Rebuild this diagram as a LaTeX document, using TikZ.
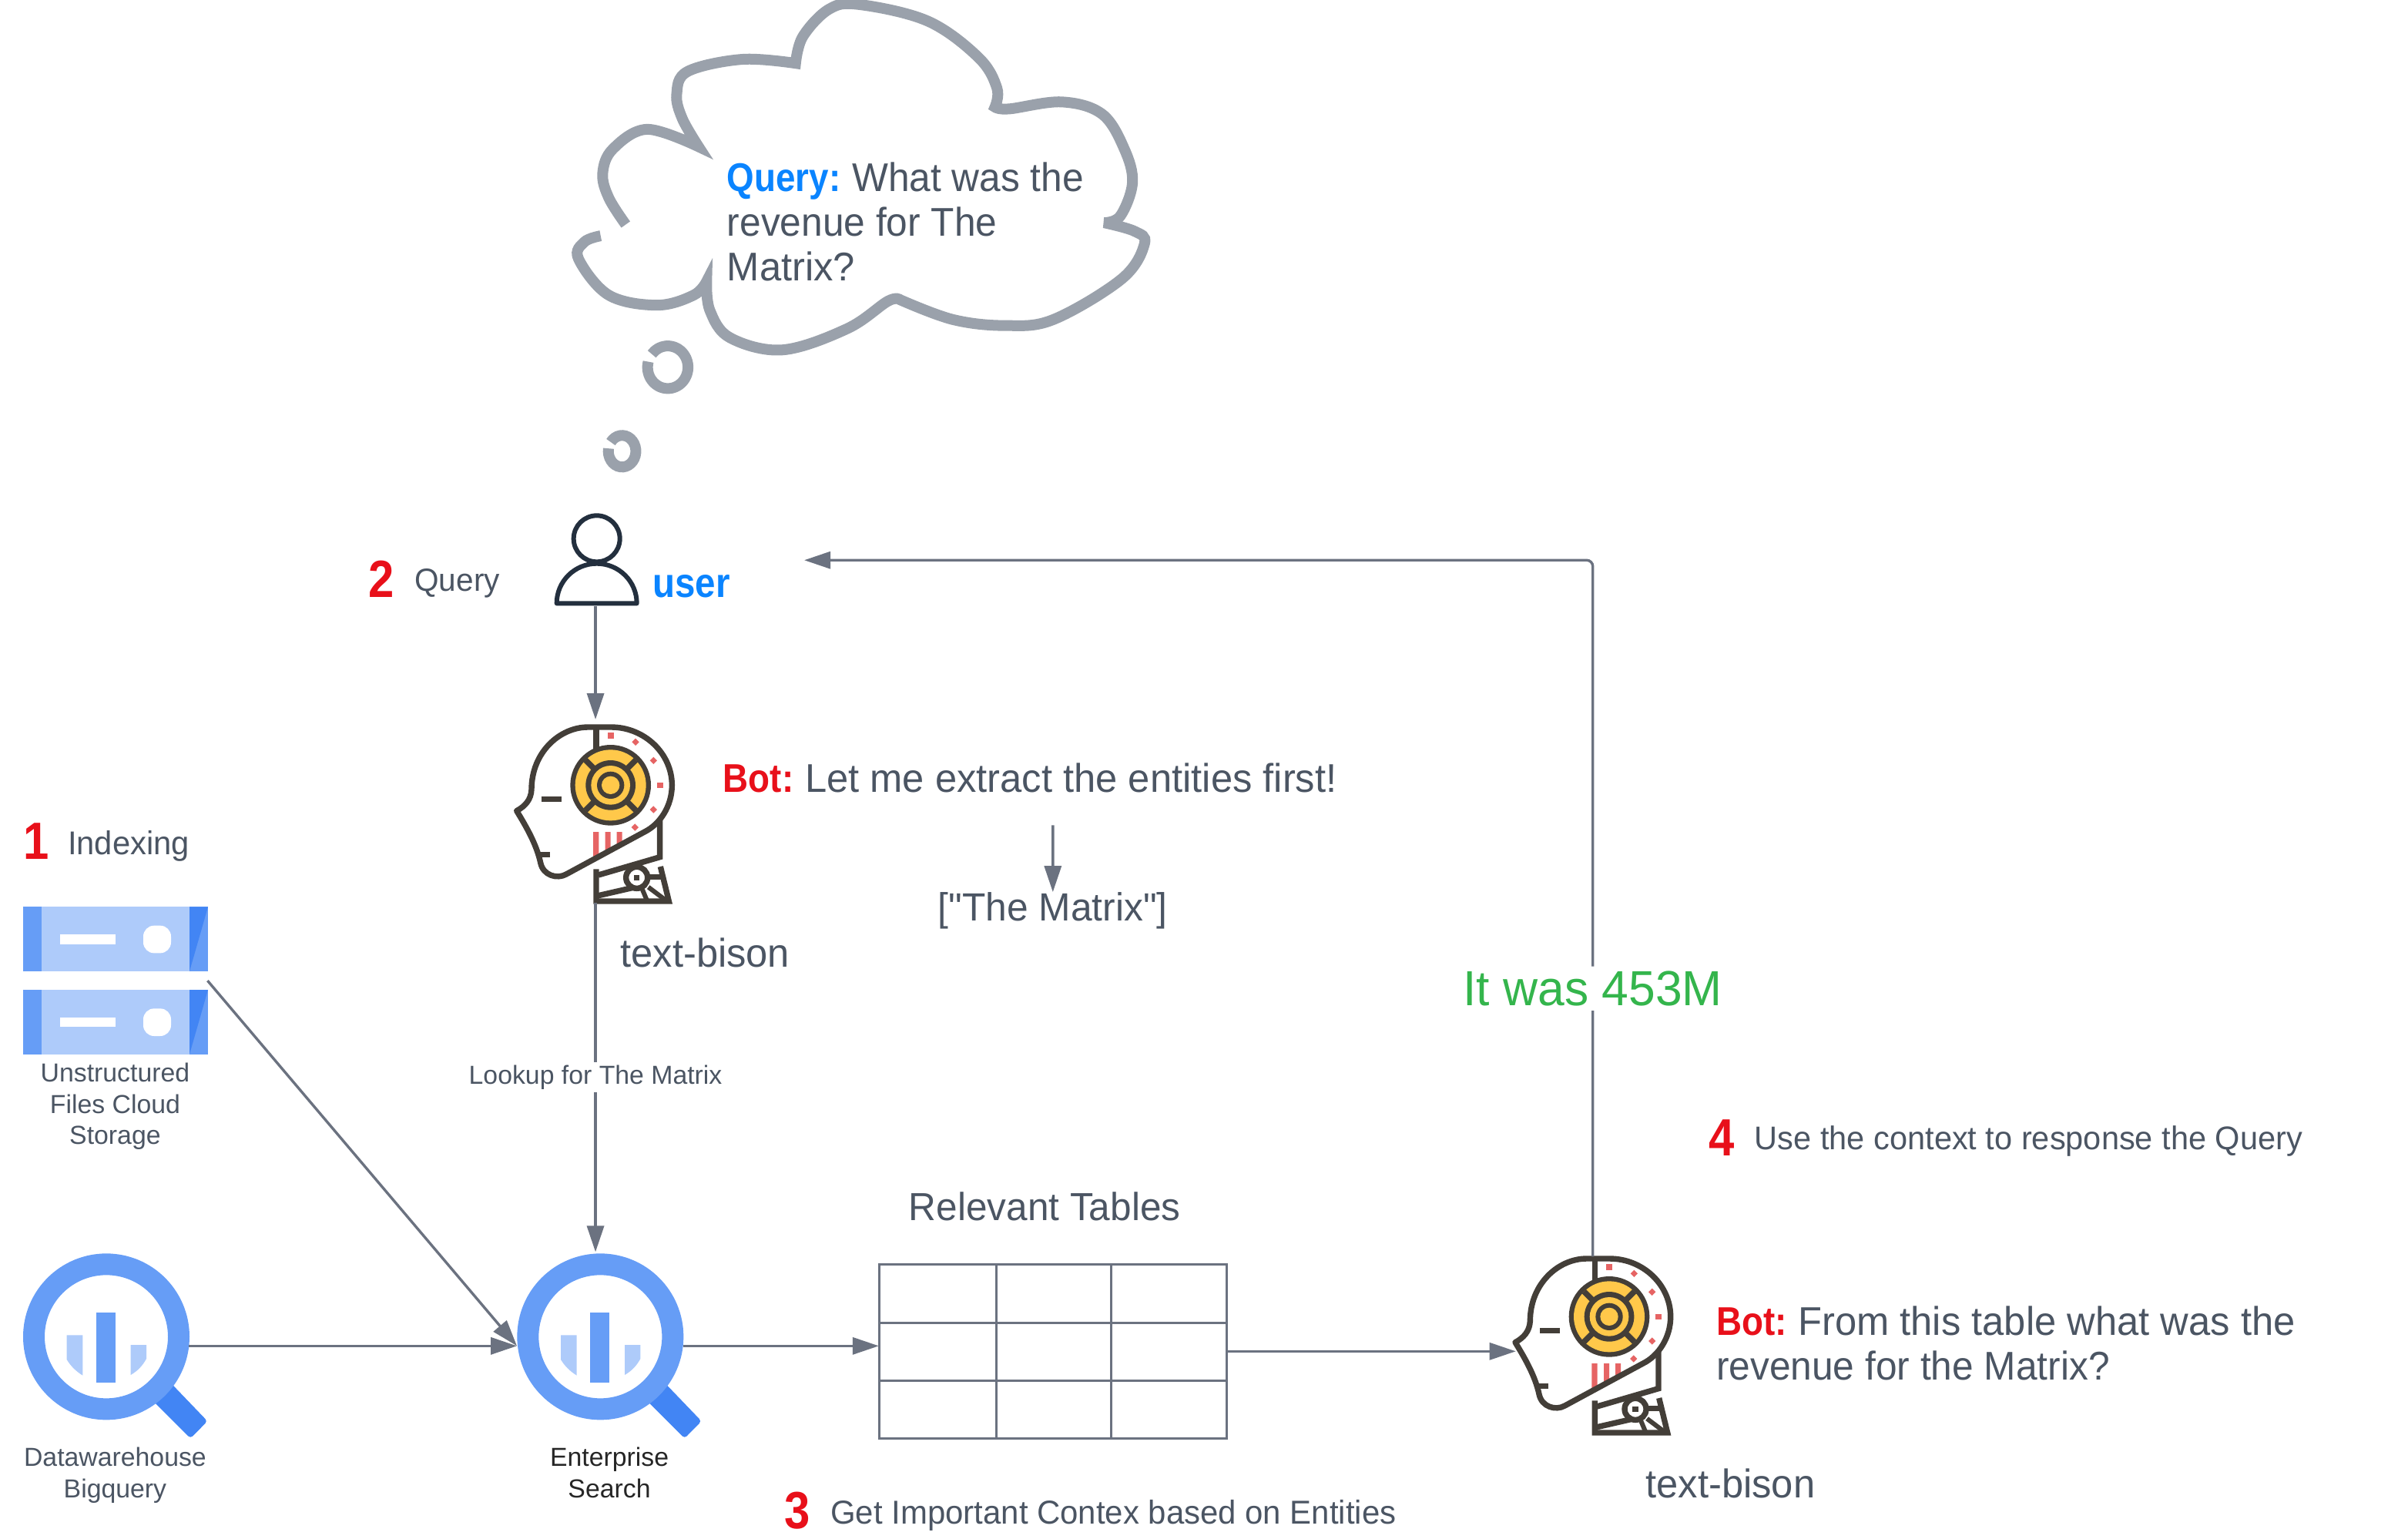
\documentclass[tikz,border=0pt]{standalone}
\usepackage{fontspec}
\setmainfont{Liberation Sans}
\newfontfamily\rb[FakeStretch=0.975,BoldFeatures={FakeStretch=0.88}]{Liberation Sans}
\newfontfamily\rn[FakeStretch=0.955]{Liberation Sans}
\usetikzlibrary{arrows.meta}
\definecolor{txtgray}{HTML}{4B5563}
\definecolor{linegray}{HTML}{6B7280}
\definecolor{cloudgray}{HTML}{9AA1AB}
\definecolor{qblue}{HTML}{0A84FF}
\definecolor{botred}{HTML}{E8101A}
\definecolor{okgreen}{HTML}{34B54C}
\definecolor{gblue}{HTML}{669DF6}
\definecolor{gdark}{HTML}{4285F4}
\definecolor{glight}{HTML}{AECBFA}
\definecolor{rdark}{HTML}{433E38}
\definecolor{ryellow}{HTML}{FFC84A}
\definecolor{rred}{HTML}{E66464}
\definecolor{unavy}{HTML}{232F3E}
\tikzset{
  conn/.style={draw=linegray,line width=1.7pt,-{Triangle[length=17pt,width=11pt]}},
  slot/.style={inner sep=0pt,outer sep=0pt,draw=none},
  txt/.style={inner sep=0pt,anchor=base west,text=txtgray,font=\rb},
  small/.style={inner sep=0pt,anchor=north,align=center,text=txtgray,font=\fontsize{16.9}{20.2}\selectfont},
  num/.style={inner sep=0pt,anchor=base west,text=botred,font=\rb\bfseries\fontsize{34}{34}\selectfont},
  rline/.style={draw=rdark,line width=3.7pt},
}
\newcommand{\robothead}[2]{%
\begin{scope}[shift={(#1,#2)},x=0.16667pt,y=-0.16667pt]
  \fill[white] (92,458) .. controls (125,440) and (148,415) .. (150,375)
    .. controls (150,230) and (260,132) .. (370,132) -- (460,132)
    .. controls (590,132) and (697,235) .. (697,358)
    .. controls (697,440) and (650,510) .. (590,540) -- (285,705)
    .. controls (250,725) and (195,710) .. (185,660)
    .. controls (170,590) and (130,520) .. (92,458) -- cycle;
  \fill[rred] (390,540) -- (412,540) -- (412,628) -- (390,640) -- cycle;
  \fill[rred] (437,540) -- (458,540) -- (458,605) -- (437,616) -- cycle;
  \fill[rred] (482,540) -- (503,540) -- (503,582) -- (482,593) -- cycle;
  \fill[rred] (447,154) rectangle (470,177);
  \fill[rred] (639,347) rectangle (662,370);
  \foreach \px/\py in {555/190,625/262,625/453,553/522}
    \fill[rred] (\px,\py) +(0,-14) -- +(14,0) -- +(0,14) -- +(-14,0) -- cycle;
  \draw[rline,line join=round] (92,458) .. controls (125,440) and (148,415) .. (150,375)
    .. controls (150,230) and (260,132) .. (370,132) -- (460,132)
    .. controls (590,132) and (697,235) .. (697,358)
    .. controls (697,440) and (650,510) .. (590,540) -- (285,705)
    .. controls (250,725) and (195,710) .. (185,660)
    .. controls (170,590) and (130,520) .. (92,458) -- cycle;
  \draw[rline] (402,132) -- (402,215);
  \draw[rline] (188,413) -- (267,413);
  \draw[rline] (180,628) -- (222,628);
  \draw[rline] (650,490) -- (650,638) -- (410,708);
  \draw[rline,line join=miter] (402,685) -- (402,810) -- (685,810) -- (652,675);
  \draw[rline] (402,790) -- (585,748);
  \draw[rline] (600,716) -- (660,716);
  \draw[rline,line width=3pt] (605,755) -- (675,808);
  \draw[rline,line width=3pt] (580,760) -- (600,808);
  \filldraw[fill=white,draw=rdark,line width=3.7pt] (560,718) circle[radius=42];
  \fill[rdark] (549,707) rectangle (571,729);
  \fill[rdark] (458,358) circle[radius=157];
  \fill[ryellow] (458,358) circle[radius=138];
  \fill[rdark] (458,358) circle[radius=97];
  \fill[ryellow] (458,358) circle[radius=76];
  \fill[rdark] (458,358) circle[radius=53];
  \fill[ryellow] (458,358) circle[radius=35];
  \draw[rline] (392,292) -- (360,260) (524,292) -- (556,260) (392,424) -- (360,456) (524,424) -- (556,456);
\end{scope}}
\newcommand{\bqglass}[2]{%
\begin{scope}[shift={(#1,#2)},x=0.16667pt,y=-0.16667pt]
  \fill[gdark,rounded corners=2pt] (640,530) -- (808,705) -- (742,772) -- (575,605) -- cycle;
  \fill[gblue,even odd rule] (414,376) circle[radius=324] (414,376) circle[radius=240];
  \fill[gblue] (374,283) rectangle (450,555);
  \fill[glight] (260,370) -- (322,370) -- (322,527) .. controls (295,510) and (275,490) .. (260,465) -- cycle;
  \fill[glight] (509,408) -- (570,408) -- (570,462) .. controls (555,490) and (535,510) .. (509,525) -- cycle;
\end{scope}}
\newcommand{\serverstack}[2]{%
\begin{scope}[shift={(#1,#2)},x=0.16667pt,y=-0.16667pt]
  \foreach \dy in {0,323}{
    \fill[glight] (90,82+\dy) rectangle (810,333+\dy);
    \fill[gblue] (90,82+\dy) rectangle (162,333+\dy);
    \fill[gblue] (738,82+\dy) rectangle (810,333+\dy);
    \fill[gdark] (738,82+\dy) -- (810,82+\dy) -- (738,333+\dy) -- cycle;
    \fill[white] (234,190+\dy) rectangle (450,227+\dy);
    \fill[white,rounded corners=7pt] (558,155+\dy) rectangle (666,262+\dy);
  }
\end{scope}}
\begin{document}
\begin{tikzpicture}[x=1pt,y=-1pt]
\useasboundingbox (0,0) rectangle (1563,998.5);
% thought cloud
\begin{scope}[shift={(350.5,0)},x=0.2625pt,y=-0.1975pt]
  \draw[draw=cloudgray,line width=7pt,line join=miter,miter limit=6]
    plot[smooth,tension=.6] coordinates {(212,738) (170,650) (155,570) (180,490) (265,425) (392,482)}
    -- plot[smooth,tension=.6] coordinates {(392,482) (352,390) (338,310) (365,235) (500,195) (632,208)}
    -- plot[smooth,tension=.6] coordinates {(632,208) (650,120) (715,30) (790,15) (960,70) (1085,190) (1130,290) (1125,352)}
    -- plot[smooth,tension=.6] coordinates {(1125,352) (1160,358) (1290,335) (1390,375) (1445,490) (1465,600) (1435,710) (1395,732)}
    -- plot[smooth,tension=.6] coordinates {(1395,732) (1470,760) (1495,800) (1440,915) (1270,1050) (1150,1070) (1020,1050) (890,985)}
    -- plot[smooth,tension=.6] coordinates {(890,985) (860,990) (760,1080) (600,1150) (470,1110) (420,1020) (412,925)}
    -- plot[smooth,tension=.6] coordinates {(412,925) (380,970) (290,1003) (170,970) (95,850) (110,795) (150,775)};
  \draw[draw=cloudgray,line width=7pt] plot[smooth,domain=218:555,samples=30] ({316+50*cos(\x)},{1207+70*sin(\x)});
  \draw[draw=cloudgray,line width=7pt] plot[smooth,domain=215:550,samples=30] ({203+34*cos(\x)},{1483+52*sin(\x)});
\end{scope}
% icons
\begin{scope}[shift={(340,320)},x=0.16667pt,y=-0.16667pt]
  \draw[unavy,line width=3pt] (284,178) circle[radius=90];
  \draw[unavy,line width=3pt,line join=round,fill=white] (128,430) arc[start angle=180,end angle=0,x radius=156,y radius=-155] -- cycle;
\end{scope}
\robothead{320}{450}
\robothead{968.17}{795}
\serverstack{0}{575}
\bqglass{0}{805}
\bqglass{320.67}{805}
\begin{scope}[scale=0.99626]
\node[txt,anchor=north west,align=left,font=\rb\fontsize{26}{29}\selectfont] (qtext) at (473.5,105.5) {\textcolor{qblue}{\bfseries Query:}\hspace{-2pt} {\rn What was the}\\{\rn revenue for The}\\Matrix?};
\node[slot,minimum width=64pt,minimum height=60pt] (usr) at (388,365) {};
\node[txt,text=qblue,font=\rb\bfseries\fontsize{27}{27}\selectfont] (usrlabel) at (425,389) {user};
\node[num] (n2) at (240,389) {2};
\node[txt,font=\rb\fontsize{20.8}{24}\selectfont] (q2) at (270,385) {Query};
\node[slot,minimum width=106pt,minimum height=119pt] (botA) at (388,528.5) {};
\node[slot,minimum width=100pt,minimum height=116pt] (botB) at (1037.8,877) {};
\node[slot,minimum width=120pt,minimum height=96pt] (srv) at (75,639) {};
\node[slot,minimum width=108pt,minimum height=122pt] (bqA) at (69,877) {};
\node[slot,minimum width=108pt,minimum height=122pt] (ent) at (391,877) {};
\node[slot,minimum width=226pt,minimum height=113pt] (tab) at (686,880.5) {};
\coordinate (back) at (524,365);
% table
\draw[draw=linegray,line width=1.5pt] (573,824) rectangle (799,937)
  (649,824) -- (649,937) (724,824) -- (724,937) (573,862) -- (799,862) (573,899.5) -- (799,899.5);
% connectors
\draw[conn] (usr.south) -- (usr.south |- botA.north);
\draw[conn] (botA.south) -- node[pos=.5,fill=white,inner sep=2pt,text=txtgray,font=\fontsize{16.9}{20}\selectfont] (lookup) {Lookup for The Matrix} (botA.south |- ent.north);
\draw[conn] (srv.east) -- (ent.west);
\draw[conn] (bqA.east) -- (ent.west);
\draw[conn] (ent.east) -- (ent.east -| tab.west);
\draw[conn] (tab.east) -- (tab.east -| botB.west);
\draw[conn,rounded corners=4pt] (botB.north) -- node[pos=.385,fill=white,inner sep=3pt,text=okgreen,font=\rb\fontsize{32}{36}\selectfont] (answer) {It was 453M} (botB.north |- back) -- (back);
\node[txt,font=\rb\fontsize{26}{29}\selectfont] (botsay) at (471,516) {\textcolor{botred}{\bfseries Bot:}\hspace{-2pt} Let me extract the entities first!};
\node[inner sep=0pt] (arrtop) at (686,537) {};
\node[txt,font=\rb\fontsize{25.5}{29}\selectfont] (ents) at (611,600) {["The Matrix"]};
\draw[conn] (arrtop) -- (arrtop |- ents.north);
\node[txt,font=\rb\fontsize{26}{29}\selectfont] (tb1) at (404,630) {text-bison};
\node[txt,font=\rb\fontsize{26}{29}\selectfont] (tb2) at (1072,976) {text-bison};
\node[num] (n1) at (15,560) {1};
\node[txt,font=\rb\fontsize{21.4}{24}\selectfont] (i1) at (44,557) {Indexing};
\node[small] (ustor) at (75,692.5) {Unstructured\\Files Cloud\\Storage};
\node[small] (dwh) at (75,943) {Datawarehouse\\Bigquery};
\node[small,text=black!85] (esearch) at (397,943) {Enterprise\\Search};
\node[num] (n4) at (1113,753) {4};
\node[txt,font=\rb\fontsize{21.3}{24}\selectfont] (s4) at (1143,749) {Use the context to response the Query};
\node[txt,font=\rb\fontsize{25.4}{29}\selectfont] (rt) at (592,795) {Relevant Tables};
\node[txt,anchor=north west,align=left,font=\rb\fontsize{26}{29}\selectfont] (botsay2) at (1118,851) {\textcolor{botred}{\bfseries Bot:}\hspace{-2pt} From this table what was the\\{\rn revenue for the Matrix?}};
\node[num] (n3) at (511,996) {3};
\node[txt,font=\rb\fontsize{21.5}{24}\selectfont] (s3) at (541,993) {Get Important Contex based on Entities};
\end{scope}
\end{tikzpicture}
\end{document}
